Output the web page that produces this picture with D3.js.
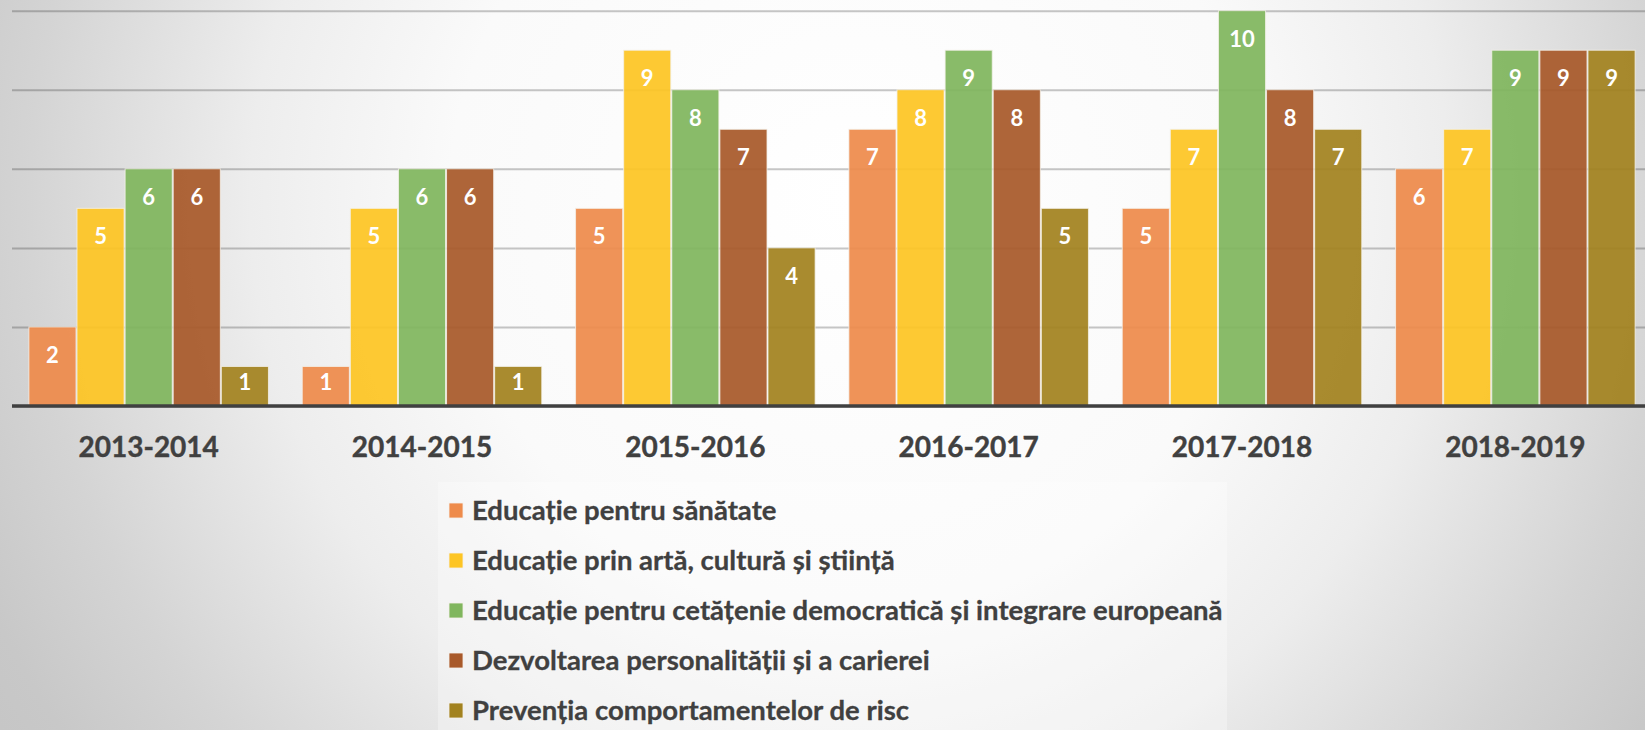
<!DOCTYPE html>
<html>
<head>
<meta charset="utf-8">
<script src="https://cdnjs.cloudflare.com/ajax/libs/d3/7.8.5/d3.min.js"></script>
<style>
  html, body { margin: 0; padding: 0; overflow: hidden; }
  svg { display: block; }
  text { font-family: Lato, "Open Sans", sans-serif; font-weight: bold; }
</style>
</head>
<body>
<div id="chart"></div>
<script>
// years on the x axis
var years = ["2013-2014", "2014-2015", "2015-2016", "2016-2017", "2017-2018", "2018-2019"];

// one array per activity domain
var sanatate = [2, 1, 5, 7, 5, 6];
var arta = [5, 5, 9, 8, 7, 7];
var cetatenie = [6, 6, 8, 9, 10, 9];
var cariera = [6, 6, 7, 8, 8, 9];
var risc = [1, 1, 4, 5, 7, 9];

var seriesNames = [
  "Educație pentru sănătate",
  "Educație prin artă, cultură și știință",
  "Educație pentru cetățenie democratică și integrare europeană",
  "Dezvoltarea personalității și a carierei",
  "Prevenția comportamentelor de risc"
];
var seriesValues = [sanatate, arta, cetatenie, cariera, risc];
var colors = ["#ee8b4b", "#fdc524", "#80b65e", "#a8592a", "#a2821f"];

var yTicks = [0, 2, 4, 6, 8, 10];

var W = 1645, H = 730;

var svg = d3.select("#chart").append("svg")
    .attr("width", W)
    .attr("height", H);

// background: white towards the middle, fading to grey at the edges
var defs = svg.append("defs");
var grad = defs.append("radialGradient")
    .attr("id", "bg")
    .attr("gradientUnits", "userSpaceOnUse")
    .attr("cx", 850).attr("cy", 200).attr("r", 1000);
grad.append("stop").attr("offset", "0").attr("stop-color", "#ffffff");
grad.append("stop").attr("offset", "0.4").attr("stop-color", "#fafafa");
grad.append("stop").attr("offset", "0.6").attr("stop-color", "#ededed");
grad.append("stop").attr("offset", "0.82").attr("stop-color", "#d4d4d4");
grad.append("stop").attr("offset", "0.95").attr("stop-color", "#c8c8c8");
grad.append("stop").attr("offset", "1").attr("stop-color", "#c6c6c6");

svg.append("rect")
    .attr("width", W).attr("height", H)
    .attr("fill", "url(#bg)");

var plot = { left: 12, right: 1652, top: 10.7, bottom: 406 };

var x0 = d3.scaleBand()
    .domain(years)
    .range([plot.left, plot.right])
    .paddingInner(0.12)
    .paddingOuter(0.06);

var x1 = d3.scaleBand()
    .domain(d3.range(seriesNames.length))
    .range([0, x0.bandwidth()]);

var y = d3.scaleLinear()
    .domain([0, 10])
    .range([plot.bottom, plot.top]);

// gridlines
var grid = svg.append("g")
    .attr("class", "grid")
    .attr("transform", "translate(" + plot.left + ",0)")
    .call(d3.axisLeft(y).tickValues(yTicks).tickSize(-(W - plot.left)).tickFormat(""));
grid.select(".domain").remove();
grid.selectAll("line")
    .attr("stroke", "#000000")
    .attr("stroke-opacity", 0.22)
    .attr("stroke-width", 2);

// bars
var groups = svg.append("g").selectAll("g")
    .data(years)
    .enter().append("g")
    .attr("transform", function(d) { return "translate(" + x0(d) + ",0)"; });

var bars = groups.selectAll("g")
    .data(function(d, i) {
      return seriesValues.map(function(vals, s) { return { s: s, v: vals[i] }; });
    })
    .enter().append("g");

bars.append("rect")
    .attr("x", function(d) { return x1(d.s) + 0.5; })
    .attr("y", function(d) { return y(d.v); })
    .attr("width", x1.bandwidth() - 1)
    .attr("height", function(d) { return y(0) - y(d.v); })
    .attr("fill", function(d) { return colors[d.s]; })
    .attr("fill-opacity", 0.93)
    .attr("stroke", "#f4f1ea")
    .attr("stroke-opacity", 0.8)
    .attr("stroke-width", 1);

bars.append("text")
    .attr("x", function(d) { return x1(d.s) + x1.bandwidth() / 2; })
    .attr("y", function(d) {
      var h = y(0) - y(d.v);
      return y(d.v) + Math.min(28, h - 24);
    })
    .attr("dy", "0.36em")
    .attr("text-anchor", "middle")
    .attr("fill", "#ffffff")
    .attr("font-size", 22)
    .text(function(d) { return d.v; });

// x axis
var xAxis = svg.append("g")
    .attr("class", "x-axis")
    .attr("transform", "translate(0," + plot.bottom + ")")
    .call(d3.axisBottom(x0).tickSize(0).tickPadding(0));
xAxis.select(".domain")
    .attr("d", "M" + plot.left + ",0H" + W)
    .attr("stroke", "#404040")
    .attr("stroke-width", 3.5);
xAxis.selectAll("text")
    .attr("y", 51)
    .attr("dy", 0)
    .attr("fill", "#404040")
    .attr("stroke", "#404040")
    .attr("stroke-width", 0.4)
    .attr("font-size", 28)
    .style("font-family", "Lato, sans-serif")
    .style("font-weight", "bold");

// legend
var legend = svg.append("g").attr("transform", "translate(438,482)");
legend.append("rect")
    .attr("width", 789).attr("height", 250)
    .attr("fill", "#ffffff")
    .attr("fill-opacity", 0.3);

var items = legend.selectAll("g.item")
    .data(seriesNames)
    .enter().append("g")
    .attr("class", "item")
    .attr("transform", function(d, i) { return "translate(0," + (28 + i * 50) + ")"; });

items.append("rect")
    .attr("x", 11).attr("y", -7)
    .attr("width", 14).attr("height", 15)
    .attr("fill", function(d, i) { return colors[i]; })
    .attr("stroke", "#f4f1ea")
    .attr("stroke-width", 0.8);

items.append("text")
    .attr("x", 34)
    .attr("dy", "0.36em")
    .attr("fill", "#404040")
    .attr("stroke", "#404040")
    .attr("stroke-width", 0.3)
    .attr("font-size", 27.5)
    .text(function(d) { return d; });
</script>
</body>
</html>
